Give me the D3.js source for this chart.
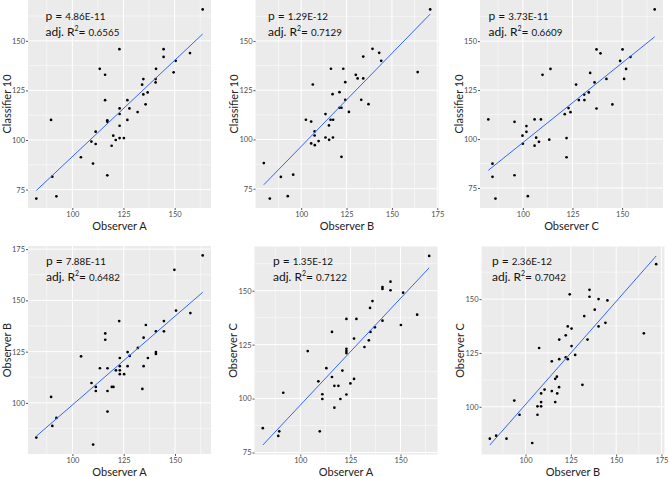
<!DOCTYPE html>
<html>
<head>
<meta charset="utf-8">
<script src="https://cdn.jsdelivr.net/npm/d3@7"></script>
<style>
  body { margin: 0; background: #fff; }
  svg { display: block; font-family: Lato, "Open Sans", sans-serif; }
</style>
</head>
<body>
<svg id="chart" width="669" height="477"></svg>
<script>
// --- data (one pair of arrays per panel) ---
const p1X = [163.7,123.0,144.6,144.6,157.5,150.5,113.4,140.9,149.5,116.0,134.7,140.7,140.7,134.1,136.8,134.7,116.0,126.9,135.8,123.1,127.9,131.9,123.1,89.6,117.1,117.1,126.9,123.1,111.4,120.0,121.2,123.1,125.2,109.3,111.4,119.2,104.2,110.1,90.2,117.1,82.4,92.2];
const p1Y = [165.8,145.8,145.8,141.9,143.8,139.9,135.9,135.9,134.1,132.9,130.7,130.7,129.0,127.9,124.0,123.0,120.1,120.1,118.0,115.9,115.9,114.1,113.1,110.1,109.9,109.2,110.1,107.2,104.2,102.2,100.0,101.0,101.0,99.2,98.0,97.1,91.3,88.1,81.5,82.2,70.5,71.6];

const p2X = [171.1,139.3,143.0,134.2,144.1,116.4,123.2,164.2,130.1,131.1,134.2,124.3,106.4,121.1,117.3,124.3,133.1,137.1,121.1,122.2,126.3,113.4,102.6,105.5,116.2,117.6,115.3,107.4,107.4,113.4,117.5,115.4,109.6,105.5,107.5,122.2,79.4,95.6,88.8,82.7,92.6];
const p2Y = [166.0,146.0,144.0,142.1,139.9,135.9,135.9,134.2,132.8,131.0,131.0,129.1,127.9,124.0,123.0,120.1,120.1,117.9,116.1,116.1,114.0,112.9,110.0,109.1,110.0,110.0,107.1,104.1,102.0,101.0,101.0,99.8,99.2,98.0,97.1,91.2,88.0,82.1,81.0,70.0,71.2];

const p3X = [166.4,137.1,139.1,150.2,154.2,149.0,152.0,113.9,133.9,109.9,142.1,151.0,136.1,126.8,133.2,130.9,128.2,131.0,145.1,137.1,123.0,124.0,121.1,82.6,105.9,109.1,95.8,101.8,101.8,99.8,106.7,122.0,113.3,108.1,100.0,105.9,122.0,84.7,95.8,84.7,86.2,102.5];
const p3Y = [166.2,145.8,143.8,145.8,141.9,139.9,135.8,135.8,133.8,132.8,130.7,130.7,128.9,127.8,123.8,122.7,119.9,119.9,117.7,115.6,115.8,113.7,112.7,110.0,110.0,110.0,108.8,106.6,103.7,101.7,100.7,100.5,99.7,98.6,97.6,96.6,90.7,87.4,81.5,80.7,69.6,70.8];

const p4X = [163.5,149.7,150.5,157.5,122.8,144.6,135.8,116.0,116.0,134.7,140.7,144.6,131.9,126.9,140.7,140.7,104.2,127.9,136.8,123.1,113.4,117.1,123.1,126.9,134.7,121.2,123.1,123.1,125.2,109.3,111.4,119.2,120.0,134.1,111.4,117.1,89.6,117.1,92.2,90.2,82.4,110.1];
const p4Y = [171.9,164.9,145.0,143.8,139.9,139.9,138.0,133.9,130.8,131.8,134.9,134.9,126.8,124.8,124.8,123.9,122.7,122.9,121.9,121.9,116.9,116.9,117.9,117.9,117.9,115.9,115.9,114.0,114.0,109.7,107.8,107.8,107.8,106.8,105.8,105.8,102.9,95.8,92.7,88.8,83.1,79.7];

const p5X = [164.3,145.0,141.0,141.0,145.0,151.3,136.0,134.8,158.3,123.0,128.0,141.0,150.2,137.2,135.0,115.8,126.8,134.2,132.0,123.0,123.0,123.0,103.7,113.0,121.0,115.8,109.0,126.8,125.0,117.0,119.0,111.0,123.0,111.0,120.0,91.5,117.0,81.3,89.5,109.7,89.0];
const p5Y = [166.1,154.2,151.7,150.8,150.2,149.1,145.2,142.0,138.9,136.9,136.9,136.1,134.1,133.0,130.9,130.9,127.8,127.0,123.9,123.1,122.0,121.1,122.0,114.1,113.0,110.0,108.0,109.1,107.0,105.9,105.9,102.0,101.9,99.8,99.8,102.7,95.8,86.3,84.8,84.8,82.7];

const p6X = [172.1,135.3,135.3,124.4,140.3,145.2,138.2,132.4,144.1,140.3,123.3,125.4,122.2,165.3,118.6,134.2,125.4,107.5,127.4,122.2,123.3,118.6,114.5,117.3,116.4,131.4,118.5,110.5,114.5,108.6,117.5,93.8,108.6,116.4,106.6,108.6,96.7,106.6,80.3,83.8,89.5,103.7];
const p6Y = [166.2,154.3,151.1,152.2,150.0,149.4,145.1,142.1,139.0,137.3,137.3,136.3,133.2,134.1,131.2,131.2,128.2,127.3,124.1,123.0,122.1,122.1,121.1,114.0,113.0,110.2,109.1,108.0,107.3,106.2,106.2,102.9,102.2,102.2,100.2,100.2,96.3,96.3,85.2,86.6,85.2,83.2];

// labels
const xTitles = ["Observer A", "Observer B", "Observer C", "Observer A", "Observer A", "Observer B"];
const yTitles = ["Classifier 10", "Classifier 10", "Classifier 10", "Observer B", "Observer C", "Observer C"];
const pValues = ["4.86E-11", "1.29E-12", "3.73E-11", "7.88E-11", "1.35E-12", "2.36E-12"];
const r2Values = ["0.6565", "0.7129", "0.6609", "0.6482", "0.7122", "0.7042"];
const xTickVals = [[100,125,150], [100,125,150,175], [100,125,150], [100,125,150], [100,125,150], [100,125,150,175]];
const yTickVals = [[75,100,125,150], [75,100,125,150], [75,100,125,150], [100,125,150,175], [75,100,125,150], [100,125,150]];

// layout (plot area top-left, annotation offset) -- not data
const layout = [
  {left: 28,    top: 0,     annX: 17.5, annY: 20},
  {left: 255.5, top: 0,     annX: 12.5, annY: 20},
  {left: 480,   top: 0,     annX: 8.5,  annY: 20},
  {left: 28,    top: 246,   annX: 18,   annY: 19},
  {left: 254.5, top: 246.5, annX: 18.5, annY: 18.5},
  {left: 481.5, top: 246.5, annX: 10.5, annY: 18.5}
];
const W = 183, H = 208;

const panelX = [p1X, p2X, p3X, p4X, p5X, p6X];
const panelY = [p1Y, p2Y, p3Y, p4Y, p5Y, p6Y];

const svg = d3.select("#chart");

function linearFit(xs, ys) {
  const mx = d3.mean(xs), my = d3.mean(ys);
  let sxy = 0, sxx = 0;
  xs.forEach((v, i) => { sxy += (v - mx) * (ys[i] - my); sxx += (v - mx) * (v - mx); });
  const b = sxy / sxx;
  return {a: my - b * mx, b: b};
}

// ggplot-like 5% expansion
function expand(ext) {
  const d = (ext[1] - ext[0]) * 0.05;
  return [ext[0] - d, ext[1] + d];
}

function minorBreaks(ticks, dom) {
  const out = [];
  for (let v = ticks[0] - 12.5; v <= ticks[ticks.length - 1] + 12.5; v += 25) {
    if (v > dom[0] && v < dom[1]) out.push(v);
  }
  return out;
}

panelX.forEach((xs, i) => {
  const ys = panelY[i];
  const L = layout[i];
  const fit = linearFit(xs, ys);
  const xExt = d3.extent(xs);
  const fitPts = xExt.map(v => ({x: v, y: fit.a + fit.b * v}));
  const xDom = expand(xExt);
  const yDom = expand(d3.extent(ys.concat(fitPts.map(d => d.y))));

  const x = d3.scaleLinear().domain(xDom).range([0, W]);
  const y = d3.scaleLinear().domain(yDom).range([H, 0]);

  const g = svg.append("g").attr("transform", `translate(${L.left},${L.top})`);

  // panel background
  g.append("rect").attr("width", W).attr("height", H).attr("fill", "#ebebeb");

  // grid
  const grid = g.append("g");
  grid.selectAll(".vminor").data(minorBreaks(xTickVals[i], xDom)).join("line")
    .attr("x1", d => x(d)).attr("x2", d => x(d)).attr("y1", 0).attr("y2", H)
    .attr("stroke", "#fff").attr("stroke-width", 0.5);
  grid.selectAll(".hminor").data(minorBreaks(yTickVals[i], yDom)).join("line")
    .attr("y1", d => y(d)).attr("y2", d => y(d)).attr("x1", 0).attr("x2", W)
    .attr("stroke", "#fff").attr("stroke-width", 0.5);
  grid.selectAll(".vmajor").data(xTickVals[i]).join("line")
    .attr("x1", d => x(d)).attr("x2", d => x(d)).attr("y1", 0).attr("y2", H)
    .attr("stroke", "#fff").attr("stroke-width", 1);
  grid.selectAll(".hmajor").data(yTickVals[i]).join("line")
    .attr("y1", d => y(d)).attr("y2", d => y(d)).attr("x1", 0).attr("x2", W)
    .attr("stroke", "#fff").attr("stroke-width", 1);

  // axes
  const xAxis = g.append("g").attr("transform", `translate(0,${H})`)
    .call(d3.axisBottom(x).tickValues(xTickVals[i]).tickSize(2).tickPadding(1.5));
  const yAxis = g.append("g")
    .call(d3.axisLeft(y).tickValues(yTickVals[i]).tickSize(2).tickPadding(1));
  [xAxis, yAxis].forEach(ax => {
    ax.select(".domain").remove();
    ax.selectAll(".tick line").attr("stroke", "#555");
    ax.selectAll("text").attr("fill", "#4d4d4d").attr("font-size", 7.5)
      .attr("font-family", "Lato, 'Open Sans', sans-serif");
  });

  // points
  g.append("g").selectAll("circle").data(xs.map((v, j) => ({x: v, y: ys[j]})))
    .join("circle")
    .attr("cx", d => x(d.x)).attr("cy", d => y(d.y)).attr("r", 1.35)
    .attr("fill", "#000");

  // fitted line
  g.append("path").datum(fitPts)
    .attr("d", d3.line().x(d => x(d.x)).y(d => y(d.y)))
    .attr("fill", "none").attr("stroke", "#3366ff").attr("stroke-width", 1);

  // axis titles
  g.append("text").attr("x", W / 2).attr("y", H + 21.5)
    .attr("text-anchor", "middle").attr("font-size", 11).attr("fill", "#222")
    .text(xTitles[i]);
  g.append("text")
    .attr("transform", `translate(-17.5,${H / 2}) rotate(-90)`)
    .attr("text-anchor", "middle").attr("font-size", 11).attr("fill", "#222")
    .text(yTitles[i]);

  // annotation
  const ann = g.append("g").attr("transform", `translate(${L.annX},${L.annY})`)
    .attr("fill", "#111");
  const t1 = ann.append("text");
  t1.append("tspan").attr("font-size", 12).text("p = ");
  t1.append("tspan").attr("font-size", 9.8).text(pValues[i]);
  const t2 = ann.append("text").attr("y", 16);
  t2.append("tspan").attr("font-size", 12).text("adj. R");
  t2.append("tspan").attr("font-size", 7).attr("dy", -5).text("2");
  t2.append("tspan").attr("font-size", 12).attr("dy", 5).text("= ");
  t2.append("tspan").attr("font-size", 9.8).text(r2Values[i]);
});
</script>
</body>
</html>
